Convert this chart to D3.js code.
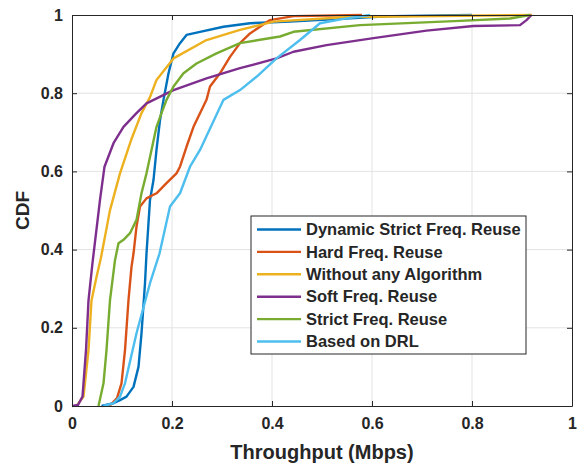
<!DOCTYPE html>
<html>
<head>
<meta charset="utf-8">
<script src="https://cdn.jsdelivr.net/npm/d3@7"></script>
<style>
  body { margin: 0; background: #fff; }
  text { font-family: "Liberation Sans", Arial, sans-serif; font-weight: bold; fill: #262626; }
</style>
</head>
<body>
<svg id="chart" width="582" height="465"></svg>
<script>
// series names and colours (legend order)
const seriesNames = ["Dynamic Strict Freq. Reuse", "Hard Freq. Reuse", "Without any Algorithm",
                     "Soft Freq. Reuse", "Strict Freq. Reuse", "Based on DRL"];
const seriesColors = ["#0072BD", "#D95319", "#EDB120", "#7E2F8E", "#77AC30", "#4DBEEE"];

// [throughput, cdf] pairs
const dynamicStrict = [[0.059,0],[0.083,0.007],[0.096,0.015],[0.109,0.024],[0.123,0.049],[0.133,0.1],
  [0.139,0.186],[0.146,0.314],[0.149,0.39],[0.156,0.527],[0.163,0.578],[0.169,0.655],[0.176,0.731],
  [0.183,0.783],[0.193,0.851],[0.203,0.902],[0.216,0.928],[0.229,0.949],[0.256,0.957],[0.303,0.970],
  [0.356,0.979],[0.436,0.983],[0.64,0.997],[0.8,1]];
const hard = [[0.075,0],[0.09,0.02],[0.099,0.058],[0.106,0.143],[0.113,0.271],[0.119,0.356],[0.123,0.39],
  [0.129,0.459],[0.136,0.51],[0.149,0.531],[0.169,0.544],[0.189,0.57],[0.209,0.595],[0.216,0.612],
  [0.229,0.663],[0.243,0.714],[0.256,0.749],[0.269,0.783],[0.276,0.817],[0.296,0.851],[0.316,0.893],
  [0.336,0.928],[0.356,0.953],[0.376,0.970],[0.396,0.987],[0.443,0.997],[0.58,1]];
const withoutAlg = [[0.009,0],[0.023,0.024],[0.033,0.143],[0.039,0.27],[0.049,0.33],[0.058,0.38],
  [0.076,0.501],[0.096,0.595],[0.119,0.683],[0.139,0.749],[0.156,0.79],[0.169,0.834],[0.203,0.889],
  [0.269,0.936],[0.336,0.962],[0.403,0.983],[0.55,0.995],[0.92,1]];
const soft = [[0.0,0],[0.012,0.003],[0.021,0.024],[0.028,0.143],[0.033,0.27],[0.041,0.366],[0.056,0.527],
  [0.065,0.612],[0.083,0.672],[0.103,0.714],[0.129,0.749],[0.149,0.774],[0.203,0.808],[0.269,0.838],
  [0.336,0.864],[0.409,0.889],[0.443,0.906],[0.509,0.923],[0.603,0.941],[0.709,0.960],[0.803,0.972],
  [0.896,0.974],[0.909,0.987],[0.919,1]];
const strict = [[0.053,0],[0.063,0.058],[0.069,0.143],[0.076,0.271],[0.086,0.373],[0.093,0.416],
  [0.103,0.425],[0.116,0.442],[0.129,0.476],[0.139,0.544],[0.149,0.595],[0.159,0.655],[0.169,0.714],
  [0.179,0.749],[0.189,0.783],[0.203,0.817],[0.223,0.851],[0.249,0.876],[0.289,0.902],[0.336,0.928],
  [0.416,0.945],[0.443,0.957],[0.576,0.974],[0.776,0.985],[0.876,0.991],[0.916,1]];
const drl = [[0.063,0],[0.083,0.007],[0.096,0.024],[0.106,0.058],[0.129,0.186],[0.156,0.314],
  [0.175,0.39],[0.196,0.51],[0.216,0.544],[0.236,0.612],[0.256,0.655],[0.303,0.783],[0.336,0.808],
  [0.369,0.842],[0.409,0.889],[0.456,0.936],[0.496,0.979],[0.543,0.990],[0.596,1]];
const seriesData = [dynamicStrict, hard, withoutAlg, soft, strict, drl];

const xTicks = [0, 0.2, 0.4, 0.6, 0.8, 1];
const yTicks = [0, 0.2, 0.4, 0.6, 0.8, 1];

const svg = d3.select("#chart");
const margin = { top: 15, right: 10, bottom: 59, left: 72 };
const width = 582 - margin.left - margin.right;
const height = 465 - margin.top - margin.bottom;

const chart = svg.append("g").attr("transform", `translate(${margin.left},${margin.top})`);

const x = d3.scaleLinear().domain([0, 1]).range([0, width]);
const y = d3.scaleLinear().domain([0, 1]).range([height, 0]);

// grid
chart.append("g").selectAll("line").data(xTicks.slice(1, -1)).enter().append("line")
  .attr("x1", d => x(d)).attr("x2", d => x(d)).attr("y1", 0).attr("y2", height)
  .attr("stroke", "#e3e3e3").attr("stroke-width", 1);
chart.append("g").selectAll("line").data(yTicks.slice(1, -1)).enter().append("line")
  .attr("y1", d => y(d)).attr("y2", d => y(d)).attr("x1", 0).attr("x2", width)
  .attr("stroke", "#e3e3e3").attr("stroke-width", 1);

// curves
const line = d3.line().x(d => x(d[0])).y(d => y(d[1]));
seriesData.forEach((s, i) => {
  chart.append("path").datum(s)
    .attr("d", line)
    .attr("fill", "none")
    .attr("stroke", seriesColors[i])
    .attr("stroke-width", 2.4)
    .attr("stroke-linejoin", "round");
});

// axes (ticks inward, on all four sides)
function styleAxis(g) {
  g.select(".domain").attr("stroke", "#262626").attr("stroke-width", 1);
  g.selectAll(".tick line").attr("stroke", "#262626");
  g.selectAll(".tick text").style("font-size", "16px").style("font-weight", "bold")
    .attr("fill", "#262626").style("font-family", "'Liberation Sans', Arial, sans-serif");
}
const fmt = d => d === 0 || d === 1 ? String(d) : d.toFixed(1);

chart.append("g").attr("transform", `translate(0,${height})`)
  .call(d3.axisBottom(x).tickValues(xTicks).tickFormat(fmt).tickSizeInner(-5).tickSizeOuter(0).tickPadding(12))
  .call(styleAxis);
chart.append("g")
  .call(d3.axisLeft(y).tickValues(yTicks).tickFormat(fmt).tickSizeInner(-5).tickSizeOuter(0).tickPadding(9))
  .call(styleAxis);
chart.append("g")
  .call(d3.axisTop(x).tickValues(xTicks).tickFormat("").tickSizeInner(-5).tickSizeOuter(0))
  .call(styleAxis);
chart.append("g").attr("transform", `translate(${width},0)`)
  .call(d3.axisRight(y).tickValues(yTicks).tickFormat("").tickSizeInner(-5).tickSizeOuter(0))
  .call(styleAxis);

// axis titles
svg.append("text").attr("x", margin.left + width / 2).attr("y", 459)
  .attr("text-anchor", "middle").style("font-size", "20px").text("Throughput (Mbps)");
svg.append("text").attr("transform", `translate(29,${margin.top + height / 2}) rotate(-90)`)
  .attr("text-anchor", "middle").style("font-size", "19px").text("CDF");

// legend
const legend = svg.append("g").attr("transform", "translate(251,216)");
legend.append("rect").attr("width", 275).attr("height", 138)
  .attr("fill", "#fff").attr("stroke", "#262626").attr("stroke-width", 1);
seriesNames.forEach((name, i) => {
  const yy = 13.5 + i * 22.4;
  legend.append("line").attr("x1", 6).attr("x2", 50).attr("y1", yy).attr("y2", yy)
    .attr("stroke", seriesColors[i]).attr("stroke-width", 2.4);
  legend.append("text").attr("x", 55).attr("y", yy).attr("dy", "0.35em")
    .style("font-size", "16.5px").text(name);
});
</script>
</body>
</html>
